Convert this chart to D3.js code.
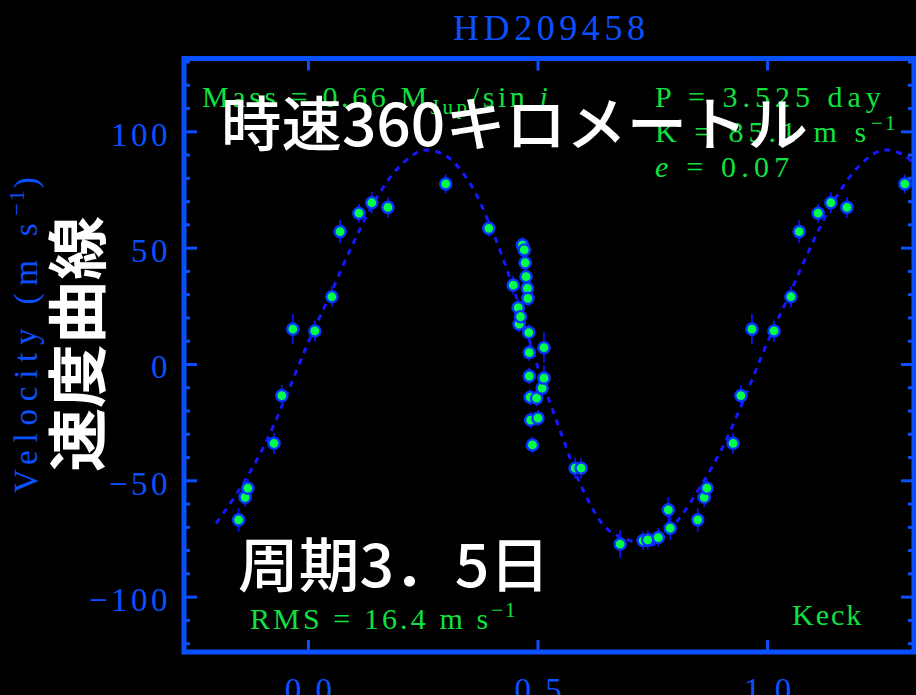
<!DOCTYPE html>
<html>
<head>
<meta charset="utf-8">
<script src="https://cdn.jsdelivr.net/npm/d3@7"></script>
<style>
  html, body { margin: 0; padding: 0; background: #000; }
  svg { display: block; }
</style>
</head>
<body>
<svg id="chart" width="916" height="695"></svg>
<script>
// ---- data -------------------------------------------------------------
const starName = "HD209458";

// Keck radial velocities folded on the orbital period
const obsPhase = [0.015, 0.052, 0.070, 0.111, 0.139, 0.174, 0.300, 0.394, 0.447, 0.458,
                  0.460, 0.463, 0.467, 0.471, 0.473, 0.475, 0.478, 0.479, 0.481, 0.482,
                  0.482, 0.484, 0.485, 0.489, 0.498, 0.501, 0.510, 0.514, 0.514, 0.582,
                  0.595, 0.680, 0.730, 0.740, 0.763, 0.785, 0.789, 0.849, 0.863, 0.869,
                  0.926, 0.943, 0.967];
const obsVelocity = [14.2, 28.9, 56.9, 64.8, 69.3, 67.3, 77.4, 58.3, 33.9, 24.2,
                     17.1, 20.3, 51.1, 49.0, 43.5, 37.5, 32.5, 28.2, 13.5, 4.9,
                     -5.2, -14.3, -24.1, -34.8, -14.7, -23.3, -10.4, 7.0, -6.1, -44.8,
                     -44.8, -77.4, -75.9, -75.6, -74.6, -62.7, -70.6, -67.0, -57.3, -53.4,
                     -34.1, -13.6, 15.0];
const obsError = [4.5, 4.5, 5.0, 4.0, 4.5, 4.5, 4.0, 3.5, 4.0, 3.5,
                  3.5, 3.5, 3.5, 3.5, 3.5, 3.5, 3.5, 3.5, 3.5, 3.5,
                  3.5, 3.5, 3.5, 3.5, 3.5, 3.5, 3.5, 6.5, 5.5, 4.5,
                  4.5, 6.0, 4.0, 4.0, 4.0, 5.5, 5.0, 5.0, 4.0, 4.0,
                  4.5, 4.5, 6.5];

// fitted orbit over one period
const fitPhase = [0.00, 0.05, 0.10, 0.15, 0.20, 0.25, 0.30, 0.35, 0.40, 0.45,
                  0.50, 0.55, 0.60, 0.65, 0.70, 0.75, 0.80, 0.85, 0.90, 0.95];
const fitVelocity = [9.0, 30.5, 52.5, 71.5, 85.0, 91.8, 89.5, 78.5, 58.0, 31.0,
                     -1.0, -29.0, -54.5, -70.6, -75.8, -77.8, -68.5, -54.2, -37.0, -15.0];

const xTicks = [0, 0.5, 1.0];
const xTickLabels = ["0.0", "0.5", "1.0"];
const yTicks = [-100, -50, 0, 50, 100];
const yTickLabels = ["\u2212100", "\u221250", "0", "50", "100"];
const yMinorTicks = [-120, -110, -90, -80, -70, -60, -40, -30, -20, -10,
                     10, 20, 30, 40, 60, 70, 80, 90, 110, 120, 130];

const orbitNotes = {
  period: "P = 3.525 day",
  amplitude: "K = 85.1 m s",
  ecc: "0.07",
  rms: "RMS = 16.4 m s",
  site: "Keck"
};
const headline = "時速360キロメートル";
const periodNote = "周期3．5日";
const curveNote = "速度曲線";

// ---- layout -----------------------------------------------------------
const axisBlue = "#0a50ff";
const markBlue = "#0a14f0";
const noteGreen = "#12e040";
const pointGreen = "#00ff48";
const serif = "'Liberation Serif', 'Times New Roman', serif";
const cjk = "'Noto Sans CJK JP', 'Noto Sans CJK SC', sans-serif";

const frame = { left: 184, right: 914, top: 58.5, bottom: 652 };
const phaseWindow = [-0.2, 1.32];

const svg = d3.select("#chart");
svg.append("rect").attr("width", 916).attr("height", 695).attr("fill", "#000");

const x = d3.scaleLinear().domain([-0.27, 1.32]).range([frame.left, frame.right]);
const y = d3.scaleLinear().domain([-123.8, 131.3]).range([frame.bottom, frame.top]);

svg.append("defs").append("clipPath").attr("id", "plotClip")
  .append("rect")
  .attr("x", frame.left).attr("y", frame.top)
  .attr("width", frame.right - frame.left).attr("height", frame.bottom - frame.top);

// repeat folded phases so that the curve runs past one cycle
function unfold(phases, lo, hi) {
  const out = [];
  phases.forEach((p, i) => {
    [-1, 0, 1].forEach(k => {
      const q = p + k;
      if (q >= lo - 1e-9 && q <= hi + 1e-9) out.push({ q, i });
    });
  });
  return out.sort((a, b) => a.q - b.q);
}

// ---- fitted curve -------------------------------------------------------
const fitPts = unfold(fitPhase, phaseWindow[0], 1.35);
const line = d3.line()
  .x(d => x(d.q))
  .y(d => y(fitVelocity[d.i]))
  .curve(d3.curveCatmullRom.alpha(0.5));

svg.append("path")
  .datum(fitPts)
  .attr("clip-path", "url(#plotClip)")
  .attr("d", line)
  .attr("fill", "none")
  .attr("stroke", "#1418ff")
  .attr("stroke-width", 3)
  .attr("stroke-dasharray", "6,6");

// ---- observations ---------------------------------------------------------
const obsPts = unfold(obsPhase, phaseWindow[0], phaseWindow[1]);
const obsG = svg.append("g").attr("clip-path", "url(#plotClip)");

obsG.selectAll("line.err").data(obsPts).join("line")
  .attr("class", "err")
  .attr("x1", d => x(d.q)).attr("x2", d => x(d.q))
  .attr("y1", d => y(obsVelocity[d.i] - obsError[d.i]))
  .attr("y2", d => y(obsVelocity[d.i] + obsError[d.i]))
  .attr("stroke", markBlue)
  .attr("stroke-width", 1.8);

obsG.selectAll("circle.obs").data(obsPts).join("circle")
  .attr("class", "obs")
  .attr("cx", d => x(d.q))
  .attr("cy", d => y(obsVelocity[d.i]))
  .attr("r", 5.6)
  .attr("fill", pointGreen)
  .attr("stroke", "#0a34ff")
  .attr("stroke-width", 2.4);

// ---- axes -----------------------------------------------------------------
function styleAxis(g) {
  g.attr("color", axisBlue);
  g.select(".domain").remove();
  g.selectAll(".tick line").attr("stroke-width", 3);
}

svg.append("g").attr("transform", `translate(${frame.left},0)`)
  .call(d3.axisLeft(y).tickValues(yMinorTicks).tickSize(-6).tickFormat(""))
  .call(styleAxis);
svg.append("g").attr("transform", `translate(${frame.right},0)`)
  .call(d3.axisRight(y).tickValues(yMinorTicks).tickSize(-6).tickFormat(""))
  .call(styleAxis);
svg.append("g").attr("transform", `translate(${frame.right},0)`)
  .call(d3.axisRight(y).tickValues(yTicks).tickSize(-13).tickFormat(""))
  .call(styleAxis);
svg.append("g").attr("transform", `translate(0,${frame.top})`)
  .call(d3.axisTop(x).tickValues(xTicks).tickSize(-12).tickFormat(""))
  .call(styleAxis);

const yAxis = svg.append("g").attr("transform", `translate(${frame.left},0)`)
  .call(d3.axisLeft(y).tickValues(yTicks).tickSize(-13).tickPadding(13)
        .tickFormat((d, i) => yTickLabels[i]))
  .call(styleAxis);
yAxis.selectAll("text")
  .attr("font-family", serif).attr("font-size", 33)
  .attr("letter-spacing", "3.5px")
  .attr("dy", "0.42em")
  .attr("fill", axisBlue);

const xAxis = svg.append("g").attr("transform", `translate(0,${frame.bottom})`)
  .call(d3.axisBottom(x).tickValues(xTicks).tickSize(-12).tickPadding(26)
        .tickFormat((d, i) => xTickLabels[i]))
  .call(styleAxis);
xAxis.selectAll("text")
  .attr("font-family", serif).attr("font-size", 33)
  .attr("letter-spacing", "3px")
  .attr("dx", "1.5px")
  .attr("fill", axisBlue);

// frame drawn last so it sits over the tick roots
svg.append("rect")
  .attr("x", frame.left).attr("y", frame.top)
  .attr("width", frame.right - frame.left).attr("height", frame.bottom - frame.top)
  .attr("fill", "none")
  .attr("stroke", axisBlue)
  .attr("stroke-width", 5);

// ---- titles ---------------------------------------------------------------
svg.append("text")
  .attr("x", (frame.left + frame.right) / 2).attr("y", 40)
  .attr("text-anchor", "middle")
  .attr("font-family", serif).attr("font-size", 36)
  .attr("textLength", 192).attr("lengthAdjust", "spacing")
  .attr("fill", axisBlue)
  .text(starName);

const yLabel = svg.append("text")
  .attr("transform", "translate(37,493) rotate(-90)")
  .attr("font-family", serif).attr("font-size", 33)
  .attr("letter-spacing", "7.8px")
  .attr("fill", axisBlue);
yLabel.append("tspan").text("Velocity (m s");
yLabel.append("tspan").attr("font-size", 22).attr("dy", -13).attr("letter-spacing", "2px").text("\u22121");
yLabel.append("tspan").attr("dy", 13).text(")");

// ---- orbit annotations ------------------------------------------------------
function note(xp, yp, spacing) {
  return svg.append("text")
    .attr("x", xp).attr("y", yp)
    .attr("font-family", serif).attr("font-size", 30)
    .attr("letter-spacing", spacing + "px")
    .attr("fill", noteGreen);
}

const mass = note(202, 107, 3.6);
mass.append("tspan").text("Mass = 0.66 M");
mass.append("tspan").attr("font-size", 21).attr("dy", 7).text("Jup");
mass.append("tspan").attr("dy", -7).text("/sin ");
mass.append("tspan").attr("font-style", "italic").text("i");

note(655, 107, 5.0).text(orbitNotes.period);

const kLine = note(655, 142, 5.0);
kLine.append("tspan").text(orbitNotes.amplitude);
kLine.append("tspan").attr("font-size", 21).attr("dy", -12).attr("letter-spacing", "2px").text("\u22121");

const eLine = note(655, 177, 5.2);
eLine.append("tspan").attr("font-style", "italic").text("e");
eLine.append("tspan").text(" = " + orbitNotes.ecc);

const rms = note(250, 629, 3.1);
rms.append("tspan").text(orbitNotes.rms);
rms.append("tspan").attr("font-size", 21).attr("dy", -12).attr("letter-spacing", "2px").text("\u22121");

note(792, 625, 2).text(orbitNotes.site);

// ---- overlay captions ---------------------------------------------------------
svg.append("text")
  .attr("x", 221).attr("y", 146)
  .attr("font-family", cjk).attr("font-size", 59).attr("font-weight", 500)
  .attr("textLength", 587).attr("lengthAdjust", "spacingAndGlyphs")
  .attr("fill", "#fff")
  .text(headline);

svg.append("text")
  .attr("x", 238).attr("y", 587)
  .attr("font-family", cjk).attr("font-size", 59).attr("font-weight", 500)
  .attr("textLength", 312).attr("lengthAdjust", "spacingAndGlyphs")
  .attr("fill", "#fff")
  .text(periodNote);

svg.append("text")
  .attr("transform", "translate(100,472) rotate(-90)")
  .attr("font-family", cjk).attr("font-size", 60).attr("font-weight", 700)
  .attr("textLength", 256).attr("lengthAdjust", "spacingAndGlyphs")
  .attr("fill", "#fff")
  .text(curveNote);
</script>
</body>
</html>
